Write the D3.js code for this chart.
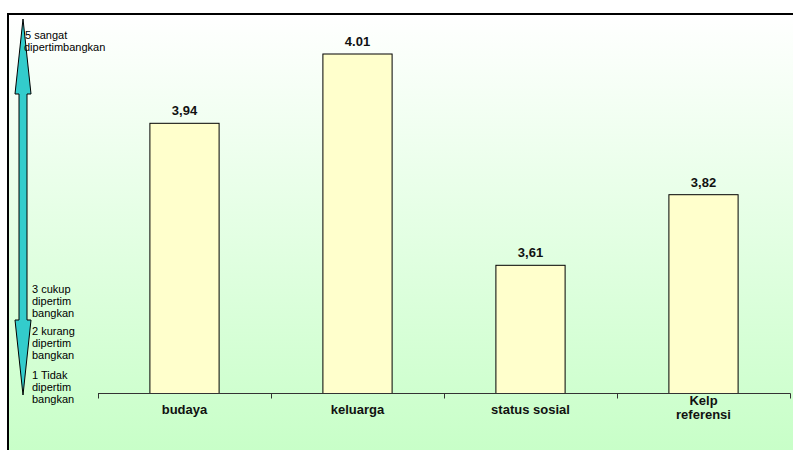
<!DOCTYPE html>
<html>
<head>
<meta charset="utf-8">
<script src="https://cdn.jsdelivr.net/npm/d3@7"></script>
<style>
  html, body { margin: 0; padding: 0; background: #ffffff; }
  svg { display: block; }
  text { font-family: "Liberation Sans", Arial, sans-serif; }
</style>
</head>
<body>
<svg id="chart" width="793" height="450"></svg>
<script>
// Factors considered and their mean scores
const categories = ["budaya", "keluarga", "status sosial", "Kelp\nreferensi"];
const scores = [3.94, 4.01, 3.61, 3.82];
const scoreLabels = ["3,94", "4.01", "3,61", "3,82"];

// Likert level annotations along the left arrow
const topLevel = ["5 sangat", "dipertimbangkan"];
const lowerLevels = [
  ["3 cukup", "dipertim", "bangkan"],
  ["2 kurang", "dipertim", "bangkan"],
  ["1 Tidak", "dipertim", "bangkan"]
];

// Break points of the (piecewise) score axis
const scoreStops = [3.2, 3.6, 3.8, 3.9, 4.0, 4.1];

const svg = d3.select("#chart");
const W = 793, H = 450;
const axisY = 393.5;

// Background panel with a soft white-to-green gradient
const defs = svg.append("defs");
const grad = defs.append("linearGradient")
  .attr("id", "bg").attr("x1", 0).attr("y1", 0).attr("x2", 0).attr("y2", 1);
grad.append("stop").attr("offset", "0%").attr("stop-color", "#ffffff");
grad.append("stop").attr("offset", "100%").attr("stop-color", "#c8ffc8");

svg.append("rect")
  .attr("x", 8).attr("y", 14).attr("width", W - 8).attr("height", H - 14)
  .attr("fill", "url(#bg)");
svg.append("path")
  .attr("d", `M8,${H} L8,14 L${W},14`)
  .attr("fill", "none").attr("stroke", "#000").attr("stroke-width", 2);

// Scales
const x = d3.scaleBand()
  .domain(categories)
  .range([98, 790])
  .paddingInner(0.6)
  .paddingOuter(0.3);

const y = d3.scaleLinear()
  .domain(scoreStops)
  .range([axisY, 268.6, 202.6, 163.1, 63.6, -32.4]);

// Bars
svg.append("g").selectAll("rect")
  .data(scores)
  .join("rect")
  .attr("x", (d, i) => x(categories[i]))
  .attr("y", d => y(d))
  .attr("width", x.bandwidth())
  .attr("height", d => y(scoreStops[0]) - y(d))
  .attr("fill", "#ffffcc")
  .attr("stroke", "#000")
  .attr("stroke-width", 1);

// Value labels
svg.append("g").selectAll("text")
  .data(scores)
  .join("text")
  .attr("x", (d, i) => x(categories[i]) + x.bandwidth() / 2)
  .attr("y", d => y(d) - 8)
  .attr("text-anchor", "middle")
  .attr("font-size", 13)
  .attr("font-weight", "bold")
  .attr("fill", "#111")
  .text((d, i) => scoreLabels[i]);

// Category axis: baseline with ticks at band boundaries
const step = x.step();
const bounds = d3.range(categories.length + 1).map(i => 98 + i * step);
const axis = svg.append("g").attr("stroke", "#333").attr("stroke-width", 1);
axis.append("line")
  .attr("x1", 98).attr("x2", 790.5)
  .attr("y1", axisY).attr("y2", axisY);
axis.selectAll("line.tick")
  .data(bounds)
  .join("line")
  .attr("class", "tick")
  .attr("x1", d => Math.round(d) + 0.5).attr("x2", d => Math.round(d) + 0.5)
  .attr("y1", axisY).attr("y2", axisY + 5);

// Category labels (may wrap onto two lines)
const catG = svg.append("g");
categories.forEach(c => {
  const lines = c.split("\n");
  const cx = x(c) + x.bandwidth() / 2;
  const t = catG.append("text")
    .attr("text-anchor", "middle")
    .attr("font-size", 13)
    .attr("font-weight", "bold")
    .attr("fill", "#111");
  const base = lines.length > 1 ? 405 : 414;
  lines.forEach((ln, k) => {
    t.append("tspan").attr("x", cx).attr("y", base + k * 14).text(ln);
  });
});

// Double-headed scale arrow
const arrowPts = [
  [23, 19], [31, 94], [27, 94], [27, 320], [31, 320],
  [23, 395], [15, 320], [19, 320], [19, 94], [15, 94]
];
svg.append("path")
  .attr("d", d3.line()(arrowPts) + "Z")
  .attr("fill", "#33cccc")
  .attr("stroke", "#000")
  .attr("stroke-width", 1);

// Level annotations
const lvl = svg.append("g").attr("font-size", 11).attr("fill", "#000");
const topT = lvl.append("text");
topLevel.forEach((ln, k) => {
  topT.append("tspan").attr("x", k === 0 ? 25 : 24).attr("y", 38.5 + k * 12).text(ln);
});
const lowerBase = [292.5, 334.5, 378.5];
lowerLevels.forEach((group, g) => {
  const t = lvl.append("text");
  group.forEach((ln, k) => {
    t.append("tspan").attr("x", 32).attr("y", lowerBase[g] + k * 12).text(ln);
  });
});
</script>
</body>
</html>
